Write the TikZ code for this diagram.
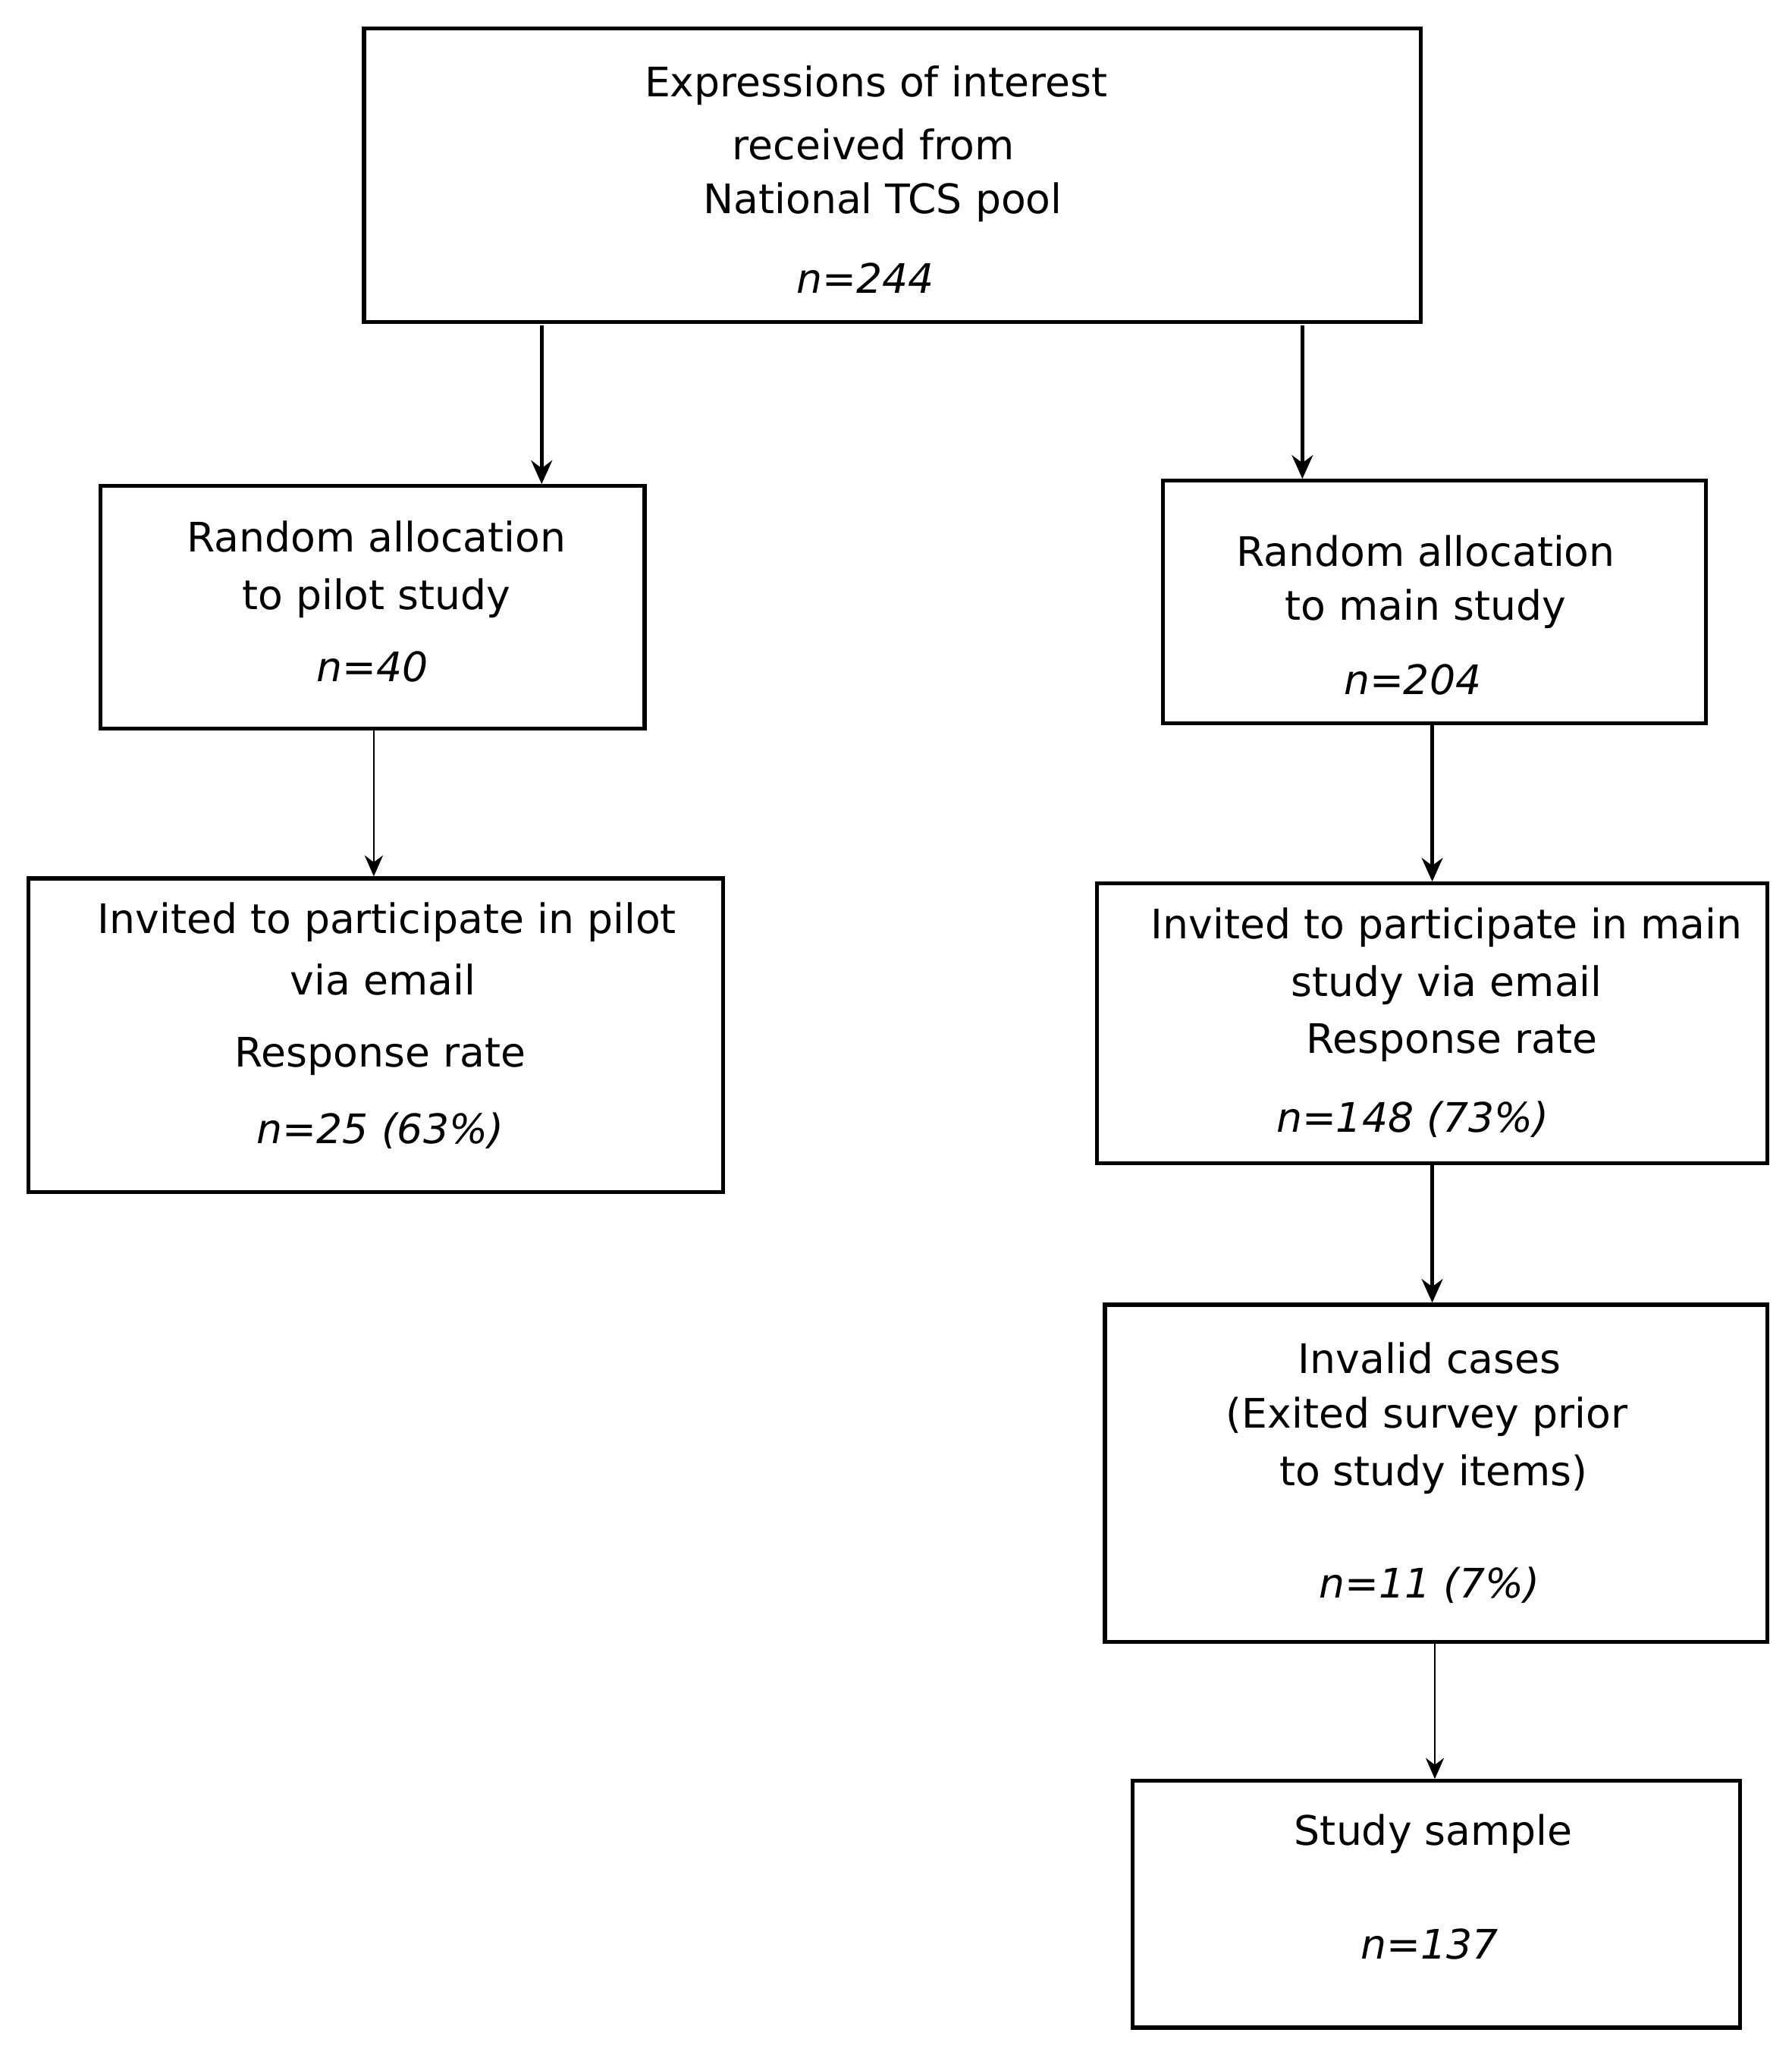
\documentclass[tikz,border=0pt]{standalone}
\usepackage{fontspec}
\setmainfont{DejaVu Sans}
\usetikzlibrary{arrows.meta}
\begin{document}
\begin{tikzpicture}[x=0.5pt,y=-0.5pt,
  box/.style={draw,line width=1.5pt,inner sep=0pt,anchor=north west},
  t/.style={font=\fontsize{15.5}{17}\selectfont,inner sep=0pt},
  ti/.style={t,font=\fontsize{15.5}{17}\selectfont\itshape},
  thick arr/.style={line width=1.5pt,-{Stealth[length=9pt,width=8pt]}},
  thin arr/.style={line width=0.7pt,-{Stealth[length=8pt,width=7pt]}}]
\useasboundingbox (0,0) rectangle (1366,1571);
\node[box,minimum width=403pt,minimum height=112pt] (top) at (276,20) {};
\node[box,minimum width=207.5pt,minimum height=92.5pt] (pilot) at (75,369) {};
\node[box,minimum width=207pt,minimum height=92.5pt] (main) at (885,365) {};
\node[box,minimum width=265pt,minimum height=119.5pt] (ipilot) at (20,668) {};
\node[box,minimum width=255.5pt,minimum height=106.5pt] (imain) at (835,672) {};
\node[box,minimum width=252.5pt,minimum height=128.5pt] (inval) at (841,993) {};
\node[box,minimum width=231.5pt,minimum height=94pt] (sample) at (862,1356) {};
\node[t] (a1) at (668,65) {Expressions of interest};
\node[t] (a2) at (666,110) {received from};
\node[t] (a3) at (673,154) {National TCS pool};
\node[ti] (a4) at (660,212) {n=244};
\node[t] (b1) at (287,409) {Random allocation};
\node[t] (b2) at (287,456) {to pilot study};
\node[ti] (b3) at (284,508) {n=40};
\node[t] (c1) at (1087,420) {Random allocation};
\node[t] (c2) at (1087,464) {to main study};
\node[ti] (c3) at (1077,518) {n=204};
\node[t] (d1) at (295,703) {Invited to participate in pilot};
\node[t] (d2) at (292,747) {via email};
\node[t] (d3) at (290,805) {Response rate};
\node[ti] (d4) at (290,862) {n=25 (63\%)};
\node[t] (e1) at (1103,707) {Invited to participate in main};
\node[t] (e2) at (1103,751) {study via email};
\node[t] (e3) at (1107,795) {Response rate};
\node[ti] (e4) at (1077,853) {n=148 (73\%)};
\node[t] (f1) at (1090,1035) {Invalid cases};
\node[t] (f2) at (1088,1080) {(Exited survey prior};
\node[t] (f3) at (1093,1124) {to study items)};
\node[ti] (f4) at (1090,1208) {n=11 (7\%)};
\node[t] (g1) at (1093,1398) {Study sample};
\node[ti] (g2) at (1090,1482) {n=137};
\coordinate (s1) at (413,248); \coordinate (e1a) at (413,369);
\coordinate (s2) at (993,248); \coordinate (e2a) at (993,365);
\coordinate (s3) at (285,554); \coordinate (e3a) at (285,668);
\coordinate (s4) at (1092,550); \coordinate (e4a) at (1092,672);
\coordinate (s5) at (1092,885); \coordinate (e5a) at (1092,993);
\coordinate (s6) at (1094,1250); \coordinate (e6a) at (1094,1356);
\draw[thick arr] (s1) -- (e1a);
\draw[thick arr] (s2) -- (e2a);
\draw[thin arr] (s3) -- (e3a);
\draw[thick arr] (s4) -- (e4a);
\draw[thick arr] (s5) -- (e5a);
\draw[thin arr] (s6) -- (e6a);
\end{tikzpicture}
\end{document}
